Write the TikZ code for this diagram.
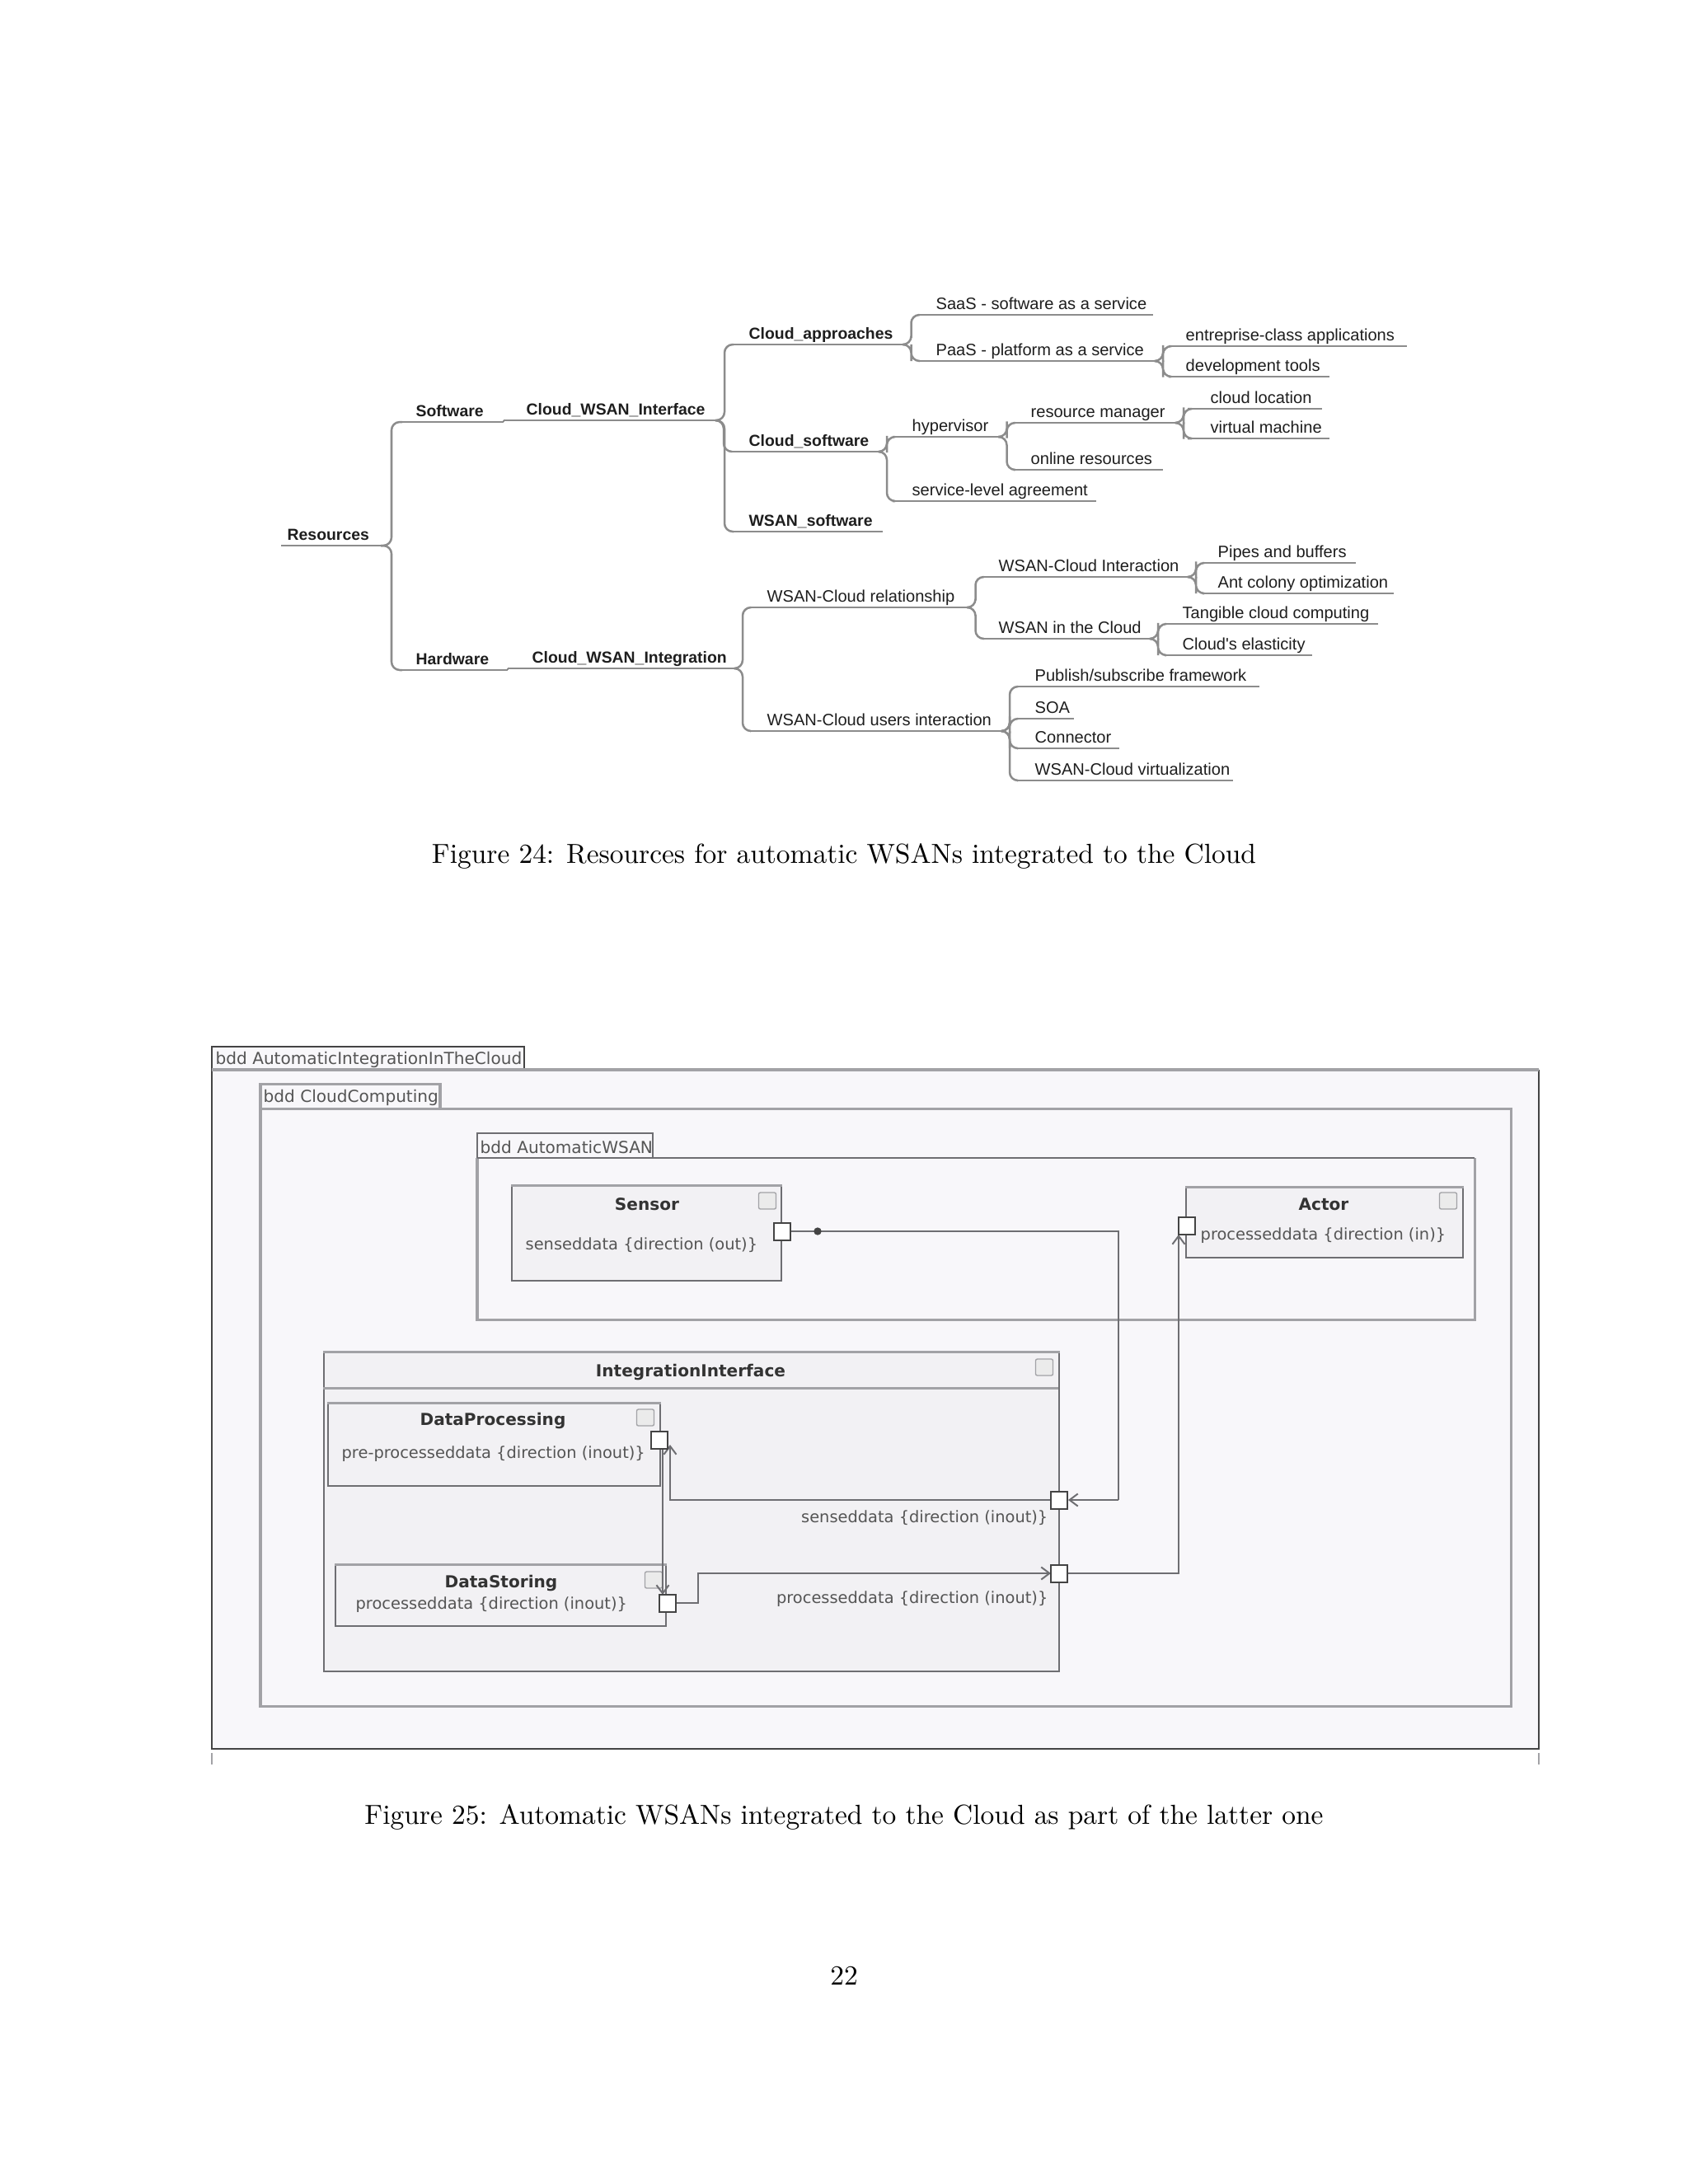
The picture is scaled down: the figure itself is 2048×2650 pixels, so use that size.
\documentclass[tikz,border=0pt]{standalone}
\usepackage{fontspec}
\newfontfamily\mmfont{Liberation Sans}
\newfontfamily\bddfont{DejaVu Sans}
\usetikzlibrary{calc,arrows.meta}
\definecolor{mmtext}{HTML}{1E1E1E}
\definecolor{mmline}{HTML}{8C8C8C}
\definecolor{bddbg}{HTML}{F8F7FA}
\definecolor{blkbg}{HTML}{F2F1F4}
\definecolor{dkline}{HTML}{444444}
\definecolor{gline}{HTML}{A2A2A6}
\definecolor{midline}{HTML}{6E6E72}
\definecolor{bddtext}{HTML}{555555}
\definecolor{bddtitle}{HTML}{333333}
\newcommand{\px}{0.29883pt}
\newcommand{\mindItem}[7]{%
  \coordinate (#1L) at (#2,#4);
  \coordinate (#1R) at (#3,#4);
  \draw[ul] (#1L) -- (#1R);
  \node[#6] (#1) at (#5,#4-7) {#7};}
\newcommand{\blockAt}[5]{%
  \node[blk, anchor=north west, minimum width={(#4-#2)*\px}, minimum height={(#5-#3)*\px}] (#1) at (#2,#3) {};
  \draw[gtop] (#1.north west) -- (#1.north east);}
\tikzset{
  mmb/.style={font=\mmfont\bfseries\fontsize{5.8}{7}\selectfont, text=mmtext, inner sep=0pt, anchor=base west},
  mmr/.style={font=\mmfont\fontsize{6}{7}\selectfont, text=mmtext, inner sep=0pt, anchor=base west},
  ul/.style={draw=mmline, line width=0.75pt},
  branch/.style={draw=mmline, line width=0.75pt, rounded corners=3pt,
    to path={-| ($(\tikztostart)!0.5!(\tikztotarget)$) |- (\tikztotarget)}},
  captxt/.style={font=\fontsize{10}{12}\selectfont, inner sep=0pt, anchor=base},
  dk/.style={draw=dkline, line width=0.6pt},
  gthick/.style={draw=gline, line width=1.1pt},
  gframe/.style={draw=gline, line width=0.9pt},
  blk/.style={draw=midline, line width=0.55pt, fill=blkbg, inner sep=0pt, rectangle},
  gtop/.style={draw=gline, line width=0.9pt},
  icon/.style={draw=gline, line width=0.4pt, fill=black!8, rounded corners=0.6pt, minimum width={21*\px}, minimum height={20*\px}, inner sep=0pt},
  port/.style={draw=dkline, line width=0.6pt, fill=white, minimum width={20*\px}, minimum height={21*\px}, inner sep=0pt},
  connln/.style={draw=midline, line width=0.6pt},
  barb/.style={-{Straight Barb[length=3pt,width=4.5pt]}},
  bddt/.style={font=\bddfont\fontsize{5.8}{7}\selectfont, text=bddtext, inner sep=0pt},
  bddb/.style={font=\bddfont\bfseries\fontsize{6}{7}\selectfont, text=bddtitle, inner sep=0pt, anchor=base},
  tabt/.style={font=\bddfont\fontsize{6}{7}\selectfont, text=bddtext, inner sep=0pt, anchor=base west},
}
\begin{document}
\begin{tikzpicture}[x=0.29883pt,y=-0.29883pt]
\useasboundingbox (0,0) rectangle (2048,2650);
\fill[white] (0,0) rectangle (2048,2650);

% ---------------- Figure 24: mind map ----------------
\mindItem{res}{341}{462}{662}{348}{mmb}{Resources}
\mindItem{sw}{488}{611}{512}{504}{mmb}{Software}
\mindItem{cwi}{611}{868}{510}{638}{mmb}{Cloud\_WSAN\_Interface}
\mindItem{ca}{890}{1096}{418}{908}{mmb}{Cloud\_approaches}
\mindItem{cs}{888}{1069}{548}{908}{mmb}{Cloud\_software}
\mindItem{wss}{890}{1071}{645}{908}{mmb}{WSAN\_software}
\mindItem{saas}{1115}{1399}{382}{1135}{mmr}{SaaS - software as a service}
\mindItem{paas}{1115}{1404}{438}{1135}{mmr}{PaaS - platform as a service}
\mindItem{eca}{1418}{1707}{420}{1438}{mmr}{entreprise-class applications}
\mindItem{dt}{1418}{1613}{457}{1438}{mmr}{development tools}
\mindItem{hyp}{1083}{1213}{530}{1106}{mmr}{hypervisor}
\mindItem{sla}{1083}{1330}{608}{1106}{mmr}{service-level agreement}
\mindItem{rm}{1230}{1431}{513}{1250}{mmr}{resource manager}
\mindItem{orr}{1230}{1411}{570}{1250}{mmr}{online resources}
\mindItem{cloc}{1441}{1604}{496}{1468}{mmr}{cloud location}
\mindItem{vm}{1441}{1613}{532}{1468}{mmr}{virtual machine}
\mindItem{hw}{488}{616}{813}{504}{mmb}{Hardware}
\mindItem{cwg}{616}{892}{811}{645}{mmb}{Cloud\_WSAN\_Integration}
\mindItem{wcr}{910}{1174}{737}{930}{mmr}{WSAN-Cloud relationship}
\mindItem{wcu}{910}{1216}{887}{930}{mmr}{WSAN-Cloud users interaction}
\mindItem{wci}{1193}{1443}{700}{1211}{mmr}{WSAN-Cloud Interaction}
\mindItem{wic}{1193}{1397}{775}{1211}{mmr}{WSAN in the Cloud}
\mindItem{pb}{1459}{1645}{683}{1477}{mmr}{Pipes and buffers}
\mindItem{aco}{1459}{1691}{720}{1477}{mmr}{Ant colony optimization}
\mindItem{tcc}{1413}{1672}{757}{1434}{mmr}{Tangible cloud computing}
\mindItem{ce}{1413}{1592}{795}{1434}{mmr}{Cloud's elasticity}
\mindItem{psf}{1234}{1528}{833}{1255}{mmr}{Publish/subscribe framework}
\mindItem{soa}{1234}{1303}{872}{1255}{mmr}{SOA}
\mindItem{cnr}{1234}{1358}{908}{1255}{mmr}{Connector}
\mindItem{wcv}{1234}{1496}{947}{1255}{mmr}{WSAN-Cloud virtualization}

\draw[ul] (swR) -- (cwiL);
\draw[ul] (hwR) -- (cwgL);
\foreach \a/\b in {res/sw,res/hw,cwi/ca,cwi/cs,cwi/wss,ca/saas,ca/paas,paas/eca,paas/dt,
  cs/hyp,cs/sla,hyp/rm,hyp/orr,rm/cloc,rm/vm,cwg/wcr,cwg/wcu,wcr/wci,wcr/wic,
  wci/pb,wci/aco,wic/tcc,wic/ce,wcu/psf,wcu/soa,wcu/cnr,wcu/wcv}
  \draw[branch] (\a R) to (\b L);

\node[captxt] (cap24) at (1024,1047) {Figure 24: Resources for automatic WSANs integrated to the Cloud};

% ---------------- Figure 25: bdd ----------------
% outer frame
\fill[bddbg] (257,1298) rectangle (1867,2122);
\fill[bddbg] (257,1270) rectangle (636,1298);
\draw[dk] (257,1298) -- (257,1270) -- (636,1270) -- (636,1298);
\draw[dk] (257,1298) -- (257,2122) -- (1867,2122) -- (1867,1298);
\draw[gthick] (257,1298) -- (1867,1298);
\node[tabt] (tabOuter) at (261,1291) {bdd AutomaticIntegrationInTheCloud};
\draw[draw=gline, line width=0.5pt] (257,2127) -- (257,2141);
\draw[draw=gline, line width=0.5pt] (1867,2127) -- (1867,2141);

% cloud computing frame
\draw[gframe] (316,1345) -- (316,1315) -- (534,1315) -- (534,1345);
\draw[gframe] (316,1345) -- (316,2070) -- (1833,2070) -- (1833,1345) -- cycle;
\node[tabt] (tabCC) at (319,1337) {bdd CloudComputing};

% automatic WSAN frame
\draw[draw=midline, line width=0.6pt] (579,1405) -- (579,1375) -- (792,1375) -- (792,1405);
\draw[gframe] (579,1405) -- (579,1601) -- (1789,1601) -- (1789,1405);
\draw[draw=midline, line width=0.8pt] (579,1405) -- (1789,1405);
\node[tabt] (tabAW) at (582,1399) {bdd AutomaticWSAN};

% blocks
\blockAt{sensor}{620}{1438}{947}{1553}
\blockAt{actor}{1438}{1440}{1774}{1525}
\blockAt{ii}{392}{1640}{1284}{2027}
\draw[gtop] (392,1684) -- (1284,1684);
\blockAt{dp}{397}{1702}{800}{1802}
\blockAt{ds}{406}{1898}{807}{1972}

% icons
\node[icon] (sensorIcon) at (931,1457) {};
\node[icon] (actorIcon) at (1757,1457) {};
\node[icon] (iiIcon) at (1267,1659) {};
\node[icon] (dpIcon) at (783,1720) {};
\node[icon] (dsIcon) at (793,1917) {};

% titles and properties
\node[bddb] (sensorT) at (785,1468) {Sensor};
\node[bddt, anchor=base west] (sensorP) at (637,1516) {senseddata \{direction (out)\}};
\node[bddb] (actorT) at (1606,1468) {Actor};
\node[bddt, anchor=base west] (actorP) at (1456,1504) {processeddata \{direction (in)\}};
\node[bddb] (iiT) at (838,1670) {IntegrationInterface};
\node[bddb] (dpT) at (598,1729) {DataProcessing};
\node[bddt, anchor=base west] (dpP2) at (414,1769) {pre-processeddata \{direction (inout)\}};
\node[bddb] (dsT) at (608,1926) {DataStoring};
\node[bddt, anchor=base west] (dsP2) at (431,1952) {processeddata \{direction (inout)\}};
\node[bddt, anchor=base east] (iiL1) at (1272,1847) {senseddata \{direction (inout)\}};
\node[bddt, anchor=base east] (iiL2) at (1272,1945) {processeddata \{direction (inout)\}};

% connector coordinates
\coordinate (k1) at (1357,1494);
\coordinate (k2) at (1357,1820);
\coordinate (k3) at (813,1820);
\coordinate (k3e) at (813,1753);
\coordinate (k4s) at (804,1758);
\coordinate (k4e) at (804,1935);
\coordinate (k5) at (847,1945);
\coordinate (k6) at (847,1909);
\coordinate (k7) at (1430,1909);
\coordinate (k7e) at (1430,1498);
\coordinate (sDot) at (992,1494);
\coordinate (iiuTip) at (1296,1820);
\coordinate (iilTip) at (1275,1909);

% port centres
\coordinate (spC) at (949,1494);
\coordinate (apC) at (1440,1487);
\coordinate (dppC) at (800,1747);
\coordinate (dspC) at (810,1945);
\coordinate (iiuC) at (1285,1820);
\coordinate (iilC) at (1285,1909);

\draw[connln] (spC) -- (k1) -- (k2);
\draw[connln, barb] (k2) -- (iiuTip);
\draw[connln, barb] (iiuC) -- (k3) -- (k3e);
\draw[connln, barb] (k4s) -- (k4e);
\draw[connln, barb] (dspC) -- (k5) -- (k6) -- (iilTip);
\draw[connln, barb] (iilC) -- (k7) -- (k7e);
\fill[dkline] (sDot) circle[radius=1.4pt];

\node[port] (sensorPort) at (spC) {};
\node[port] (actorPort) at (apC) {};
\node[port] (dpPort) at (dppC) {};
\node[port] (dsPort) at (dspC) {};
\node[port] (iiPortU) at (iiuC) {};
\node[port] (iiPortL) at (iilC) {};

\node[captxt] (cap25) at (1024,2213) {Figure 25: Automatic WSANs integrated to the Cloud as part of the latter one};
\node[captxt] (pagenum) at (1024,2408) {22};
\end{tikzpicture}
\end{document}
